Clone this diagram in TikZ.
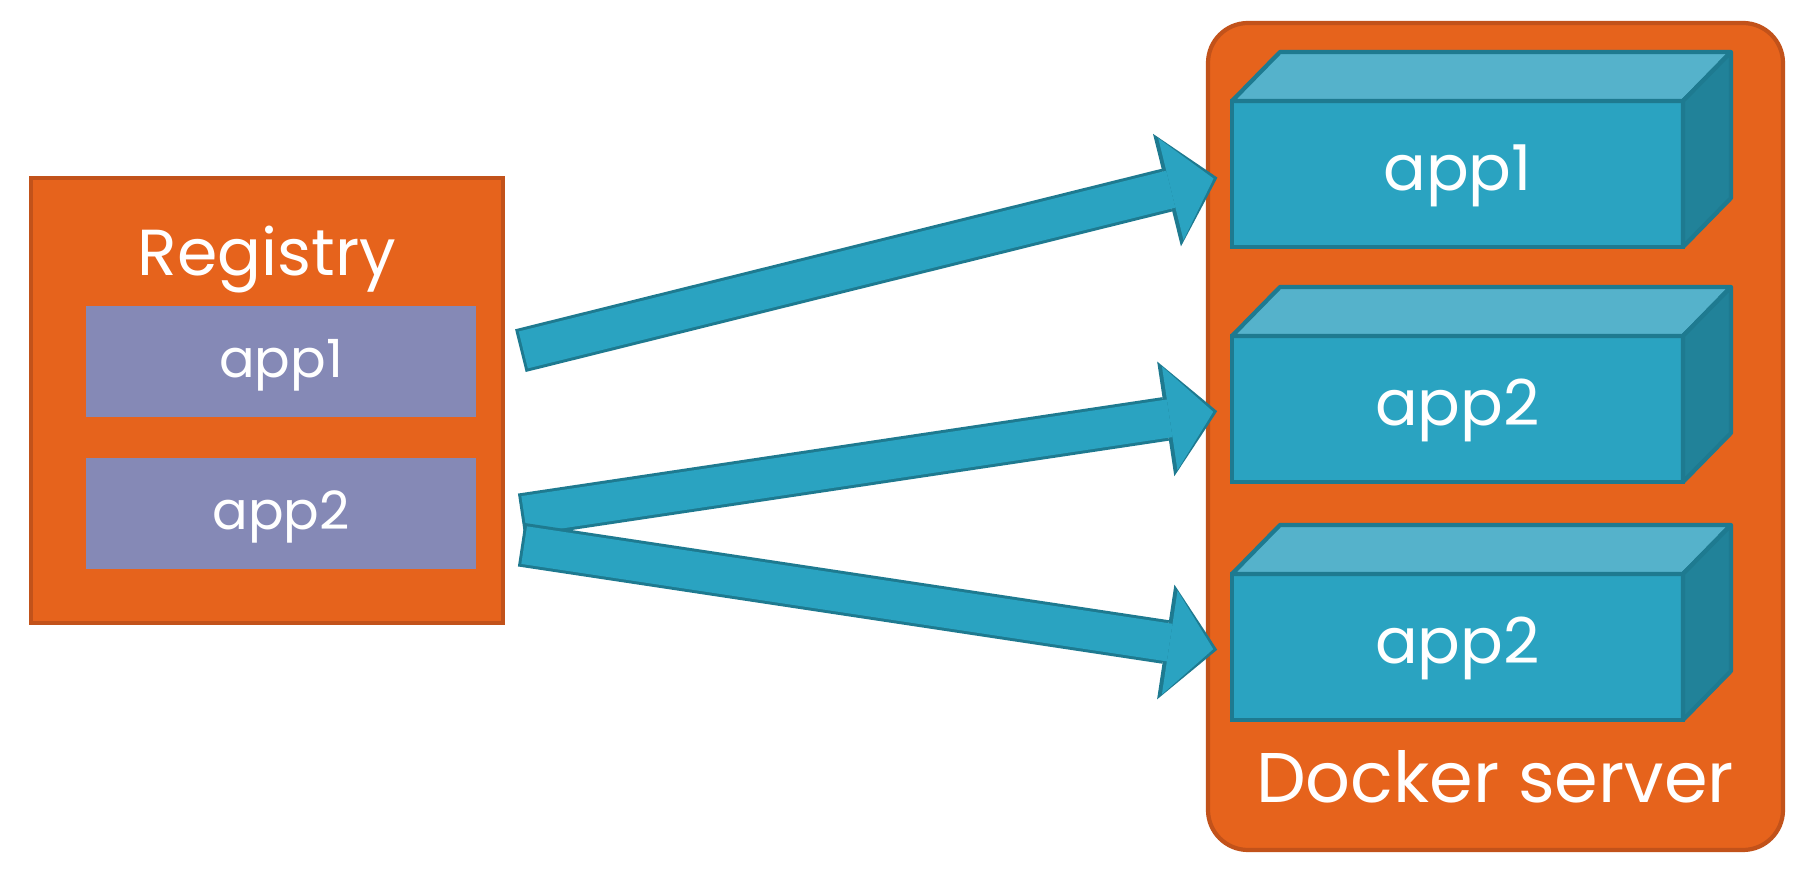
\documentclass[tikz,border=0pt]{standalone}
\usepackage{fontspec}
\setmainfont{Poppins}
\usetikzlibrary{positioning,arrows.meta}

\definecolor{srvorange}{HTML}{E6631C}
\definecolor{srvline}{HTML}{C2521A}
\definecolor{appviolet}{HTML}{8589B6}
\definecolor{cfront}{HTML}{2AA3C1}
\definecolor{ctop}{HTML}{55B2CB}
\definecolor{cside}{HTML}{218299}
\definecolor{cline}{HTML}{1E7A90}

\begin{document}
\begin{tikzpicture}[
    orangebg/.style={fill=srvorange, draw=srvline, line width=1.2pt},
    regapp/.style={fill=appviolet, minimum width=3.9cm, minimum height=1.11cm,
        text=white, font=\fontsize{15}{18}\selectfont, text height=1.15em, text depth=0.25em},
    contbox/.style={fill=cfront, draw=cline, line width=1.2pt, outer sep=0pt,
        minimum width=4.51cm, minimum height=1.46cm, text=white,
        font=\fontsize{18}{22}\selectfont, text height=1.2em, text depth=0.25em},
    arrowedge/.style={draw=cline, line width=0.44cm, shorten <=0.45cm, shorten >=0.15cm,
        -{Triangle[length=0.52cm, width=1.16cm, line width=0pt]}},
    bigarrow/.style={draw=cfront, line width=0.38cm, shorten <=0.48cm, shorten >=0.19cm,
        -{Triangle[length=0.44cm, width=1.05cm, line width=0pt]}},
]
    \useasboundingbox (0,0) rectangle (18,8.72);

    % registry
    \node[orangebg, minimum width=4.72cm, minimum height=4.45cm] (reg) at (2.67,4.715) {};
    \node[text=white, font=\fontsize{18.5}{22}\selectfont] (regtitle) at (2.67,6.12) {Registry};
    \node[regapp] (reg1) at (2.81,5.105) {app1};
    \node[regapp] (reg2) at (2.81,3.58) {app2};

    % docker server
    \node[orangebg, rounded corners=0.4cm, minimum width=5.75cm, minimum height=8.27cm] (srv) at (14.955,4.355) {};
    \node[text=white, font=\fontsize{20}{24}\selectfont] (srvtitle) at (14.95,0.95) {Docker server};

    % containers
    \node[contbox] (box1) at (14.575,6.98) {app1};
    \node[contbox] (box2) at (14.575,4.63) {app2};
    \node[contbox] (box3) at (14.575,2.25) {app2};

    \filldraw[fill=ctop, draw=cline, line width=1.2pt, line join=round] (box1.north west) -- ++(0.48,0.49) -- ([shift={(0.48,0.49)}]box1.north east) -- (box1.north east) -- cycle;
    \filldraw[fill=cside, draw=cline, line width=1.2pt, line join=round] (box1.north east) -- ++(0.48,0.49) -- ([shift={(0.48,0.49)}]box1.south east) -- (box1.south east) -- cycle;
    \filldraw[fill=ctop, draw=cline, line width=1.2pt, line join=round] (box2.north west) -- ++(0.48,0.49) -- ([shift={(0.48,0.49)}]box2.north east) -- (box2.north east) -- cycle;
    \filldraw[fill=cside, draw=cline, line width=1.2pt, line join=round] (box2.north east) -- ++(0.48,0.49) -- ([shift={(0.48,0.49)}]box2.south east) -- (box2.south east) -- cycle;
    \filldraw[fill=ctop, draw=cline, line width=1.2pt, line join=round] (box3.north west) -- ++(0.48,0.49) -- ([shift={(0.48,0.49)}]box3.north east) -- (box3.north east) -- cycle;
    \filldraw[fill=cside, draw=cline, line width=1.2pt, line join=round] (box3.north east) -- ++(0.48,0.49) -- ([shift={(0.48,0.49)}]box3.south east) -- (box3.south east) -- cycle;

    % pulls
    \draw[arrowedge] (reg1.east) -- (box1.west);
    \draw[bigarrow] (reg1.east) -- (box1.west);
    \draw[arrowedge] ([yshift=-0.08cm]reg2.east) -- (box2.west);
    \draw[bigarrow] ([yshift=-0.08cm]reg2.east) -- (box2.west);
    \draw[arrowedge] ([yshift=-0.24cm]reg2.east) -- ([yshift=-0.05cm]box3.west);
    \draw[bigarrow] ([yshift=-0.24cm]reg2.east) -- ([yshift=-0.05cm]box3.west);
\end{tikzpicture}
\end{document}
